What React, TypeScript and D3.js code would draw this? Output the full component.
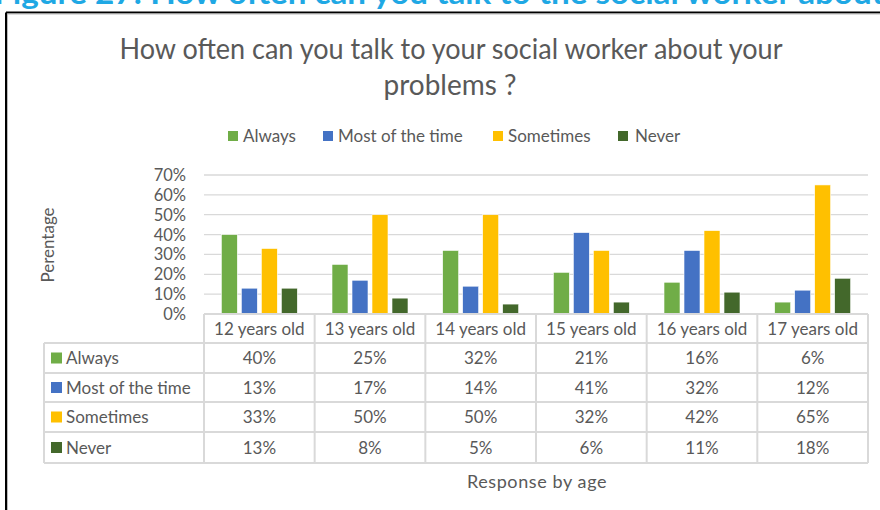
import React from "react";
import * as d3 from "d3";

const categories = ["12 years old", "13 years old", "14 years old", "15 years old", "16 years old", "17 years old"];
const seriesNames = ["Always", "Most of the time", "Sometimes", "Never"];
const seriesColors = ["#70AD47", "#4472C4", "#FFC000", "#43682B"];
const always = [40, 25, 32, 21, 16, 6];
const mostOfTheTime = [13, 17, 14, 41, 32, 12];
const sometimes = [33, 50, 50, 32, 42, 65];
const never = [13, 8, 5, 6, 11, 18];
const yTicks = [0, 10, 20, 30, 40, 50, 60, 70];

const seriesValues = [always, mostOfTheTime, sometimes, never];

const W = 880;
const H = 510;
const FONT = "Lato, 'Open Sans', sans-serif";
const TXT = "#595959";
const GRID = "#d9d9d9";

export default function App() {
  const plotL = 204, plotR = 868, plotTop = 175, plotBottom = 314;
  const x = d3.scaleBand<string>().domain(categories).range([plotL, plotR]).paddingInner(0).paddingOuter(0);
  const xs = d3.scaleBand<string>().domain(seriesNames).range([0, x.bandwidth()]).paddingInner(0.2).paddingOuter(0.867);
  const y = d3.scaleLinear().domain([0, 70]).range([plotBottom, plotTop]);

  const tableL = 44;
  const rowEdges = [314, 343, 373, 402, 432, 463];

  return (
    <svg width={W} height={H} style={{ position: "absolute", left: 0, top: 0, background: "#fff" }} fontFamily={FONT}>
      <rect x={0} y={0} width={W} height={H} fill="#fff" />
      {/* cut-off heading */}
      <text x={-6} y={3.5} fontSize={30} fontWeight="bold" fill="#1FA8E4" textLength={890} lengthAdjust="spacingAndGlyphs">
        Figure 27: How often can you talk to the social worker about
      </text>
      {/* frame */}
      <line x1={6} y1={12.5} x2={W} y2={12.5} stroke="#000" strokeWidth={2} />
      <line x1={6} y1={12.5} x2={6} y2={H} stroke="#000" strokeWidth={2} />
      <line x1={7.5} y1={14} x2={W} y2={14} stroke="#bbb" strokeWidth={1} />
      <line x1={7.5} y1={14} x2={7.5} y2={H} stroke="#bbb" strokeWidth={1} />

      {/* title */}
      <text x={451} y={59} textAnchor="middle" fontSize={28} fill={TXT} textLength={663} lengthAdjust="spacingAndGlyphs">
        How often can you talk to your social worker about your
      </text>
      <text x={450} y={95} textAnchor="middle" fontSize={28} fill={TXT} textLength={133} lengthAdjust="spacingAndGlyphs">
        problems ?
      </text>

      {/* legend */}
      {[
        { sx: 228, tx: 243 },
        { sx: 323, tx: 338 },
        { sx: 493, tx: 508 },
        { sx: 618, tx: 635 },
      ].map((p, i) => (
        <g key={i}>
          <rect x={p.sx} y={131} width={10} height={10} fill={seriesColors[i]} />
          <text x={p.tx} y={142} fontSize={17} fill={TXT}>{seriesNames[i]}</text>
        </g>
      ))}

      {/* gridlines */}
      {yTicks.filter((t) => t > 0).map((t) => (
        <line key={t} x1={plotL} x2={plotR} y1={y(t)} y2={y(t)} stroke={GRID} strokeWidth={1.3} />
      ))}
      {yTicks.map((t) => (
        <text key={"l" + t} x={186} y={y(t) + 6} textAnchor="end" fontSize={16.5} fill={TXT}>{t}%</text>
      ))}

      {/* y axis title */}
      <text transform={`translate(54,245) rotate(-90)`} textAnchor="middle" fontSize={17} fill={TXT}>Perentage</text>

      {/* bars */}
      {categories.map((c, ci) => (
        <g key={c}>
          {seriesNames.map((s, si) => {
            const v = seriesValues[si][ci];
            return (
              <rect key={s} x={(x(c) as number) + (xs(s) as number)} y={y(v)} width={xs.bandwidth()} height={plotBottom - y(v)}
                fill={seriesColors[si]} stroke="#fff" strokeWidth={0.6} />
            );
          })}
        </g>
      ))}

      {/* data table */}
      <line x1={plotL} x2={plotR} y1={rowEdges[0]} y2={rowEdges[0]} stroke={GRID} strokeWidth={2} />
      {rowEdges.slice(1).map((r) => (
        <line key={r} x1={tableL} x2={plotR} y1={r} y2={r} stroke={GRID} strokeWidth={2} />
      ))}
      <line x1={tableL} x2={tableL} y1={rowEdges[1]} y2={rowEdges[5]} stroke={GRID} strokeWidth={2} />
      {categories.map((c) => (
        <line key={"v" + c} x1={x(c) as number} x2={x(c) as number} y1={rowEdges[0]} y2={rowEdges[5]} stroke={GRID} strokeWidth={2} />
      ))}
      <line x1={plotR} x2={plotR} y1={rowEdges[0]} y2={rowEdges[5]} stroke={GRID} strokeWidth={2} />

      {categories.map((c) => (
        <text key={"h" + c} x={(x(c) as number) + x.bandwidth() / 2} y={(rowEdges[0] + rowEdges[1]) / 2 + 6} textAnchor="middle" fontSize={17} fill={TXT}>{c}</text>
      ))}
      {seriesNames.map((s, si) => {
        const cy = (rowEdges[si + 1] + rowEdges[si + 2]) / 2;
        return (
          <g key={"row" + s}>
            <rect x={51} y={cy - 5.5} width={11} height={11} fill={seriesColors[si]} />
            <text x={66} y={cy + 6} fontSize={17} fill={TXT}>{s}</text>
            {categories.map((c, ci) => (
              <text key={c} x={(x(c) as number) + x.bandwidth() / 2} y={cy + 6} textAnchor="middle" fontSize={17} fill={TXT}>
                {seriesValues[si][ci]}%
              </text>
            ))}
          </g>
        );
      })}

      <text x={537} y={488} textAnchor="middle" fontSize={18} fill={TXT} letterSpacing={0.6}>Response by age</text>
    </svg>
  );
}
